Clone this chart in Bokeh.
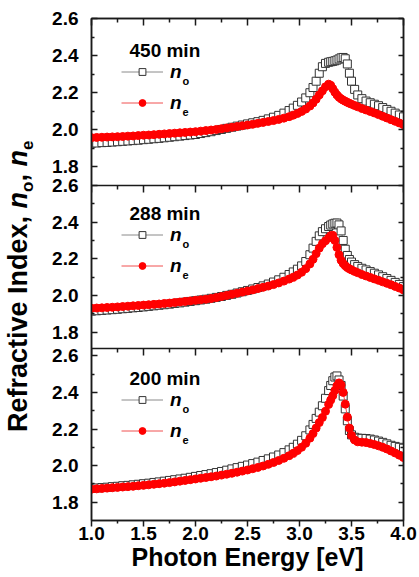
import math
from bokeh.plotting import figure
from bokeh.layouts import row
from bokeh.models import (Range1d, LinearAxis, FixedTicker, Span, Label, Legend,
                          LegendItem, ColumnDataSource, CustomJSTickFormatter,
                          PrintfTickFormatter, Div)
from bokeh.embed import file_html
from bokeh.resources import INLINE

# ---------------- data ----------------
energy = [1.00, 1.05, 1.10, 1.15, 1.20, 1.25, 1.30, 1.35, 1.40, 1.45,
          1.50, 1.55, 1.60, 1.65, 1.70, 1.75, 1.80, 1.85, 1.90, 1.95,
          2.00, 2.05, 2.10, 2.15, 2.20, 2.25, 2.30, 2.35, 2.40, 2.45,
          2.50, 2.55, 2.60, 2.65, 2.70, 2.75, 2.80, 2.85, 2.90,
          2.94, 2.98, 3.02, 3.06, 3.10,
          3.13, 3.16, 3.19, 3.22, 3.25, 3.28,
          3.30, 3.32, 3.34, 3.36, 3.38, 3.40, 3.42, 3.44, 3.46, 3.48, 3.50,
          3.53, 3.56, 3.60,
          3.64, 3.68, 3.72, 3.76, 3.80, 3.84, 3.88, 3.92, 3.96, 4.00]

no_450 = [1.928, 1.929, 1.931, 1.932, 1.934, 1.936, 1.938, 1.940, 1.942, 1.944,
          1.947, 1.949, 1.952, 1.954, 1.957, 1.960, 1.963, 1.966, 1.969, 1.972,
          1.975, 1.980, 1.985, 1.990, 1.996, 2.002, 2.008, 2.014, 2.020, 2.026,
          2.032, 2.038, 2.044, 2.051, 2.059, 2.068, 2.078, 2.090, 2.104,
          2.117, 2.132, 2.150, 2.172, 2.200,
          2.228, 2.262, 2.305, 2.340, 2.358, 2.364,
          2.367, 2.369, 2.372, 2.376, 2.382, 2.388, 2.390, 2.383, 2.355, 2.305, 2.262,
          2.218, 2.188, 2.168,
          2.155, 2.146, 2.138, 2.130, 2.120, 2.110, 2.100, 2.090, 2.080, 2.070]
ne_450 = [1.958, 1.959, 1.960, 1.961, 1.962, 1.963, 1.964, 1.966, 1.967, 1.969,
          1.971, 1.972, 1.974, 1.976, 1.978, 1.980, 1.982, 1.984, 1.986, 1.988,
          1.990, 1.993, 1.996, 1.999, 2.002, 2.006, 2.010, 2.014, 2.018, 2.022,
          2.026, 2.030, 2.035, 2.040, 2.045, 2.050, 2.056, 2.063, 2.071,
          2.079, 2.088, 2.099, 2.112, 2.128,
          2.145, 2.165, 2.188, 2.210, 2.232, 2.246,
          2.240, 2.222, 2.203, 2.188, 2.176, 2.167, 2.160, 2.154, 2.148, 2.143, 2.138,
          2.131, 2.124, 2.115,
          2.107, 2.099, 2.091, 2.082, 2.073, 2.064, 2.055, 2.046, 2.037, 2.028]

no_288 = [1.914, 1.916, 1.918, 1.920, 1.922, 1.924, 1.927, 1.929, 1.932, 1.934,
          1.937, 1.940, 1.943, 1.946, 1.949, 1.952, 1.956, 1.959, 1.963, 1.967,
          1.971, 1.975, 1.979, 1.984, 1.989, 1.994, 2.000, 2.006, 2.013, 2.020,
          2.027, 2.035, 2.043, 2.052, 2.062, 2.073, 2.085, 2.099, 2.114,
          2.128, 2.143, 2.161, 2.185, 2.222,
          2.258, 2.295, 2.325, 2.348, 2.364, 2.376,
          2.384, 2.390, 2.394, 2.395, 2.385, 2.352, 2.300, 2.252, 2.218, 2.196, 2.182,
          2.168, 2.158, 2.148,
          2.139, 2.130, 2.121, 2.112, 2.102, 2.092, 2.082, 2.071, 2.060, 2.048]
ne_288 = [1.930, 1.931, 1.932, 1.934, 1.935, 1.937, 1.939, 1.941, 1.943, 1.945,
          1.947, 1.949, 1.951, 1.953, 1.956, 1.958, 1.961, 1.964, 1.967, 1.970,
          1.973, 1.976, 1.979, 1.983, 1.988, 1.994, 2.000, 2.006, 2.012, 2.018,
          2.024, 2.030, 2.037, 2.044, 2.051, 2.059, 2.068, 2.078, 2.089,
          2.099, 2.111, 2.126, 2.146, 2.172,
          2.197, 2.228, 2.258, 2.282, 2.298, 2.314,
          2.326, 2.328, 2.300, 2.262, 2.222, 2.192, 2.174, 2.162, 2.152, 2.145, 2.139,
          2.131, 2.124, 2.114,
          2.106, 2.098, 2.090, 2.082, 2.074, 2.066, 2.058, 2.049, 2.040, 2.030]

no_200 = [1.876, 1.878, 1.880, 1.882, 1.885, 1.887, 1.890, 1.892, 1.895, 1.898,
          1.901, 1.904, 1.908, 1.911, 1.915, 1.919, 1.923, 1.927, 1.931, 1.936,
          1.941, 1.946, 1.951, 1.956, 1.962, 1.968, 1.975, 1.982, 1.989, 1.996,
          2.003, 2.011, 2.019, 2.028, 2.037, 2.047, 2.058, 2.071, 2.086,
          2.100, 2.117, 2.138, 2.163, 2.195,
          2.225, 2.258, 2.292, 2.327, 2.368, 2.410,
          2.438, 2.464, 2.484, 2.490, 2.468, 2.438, 2.380, 2.310, 2.245, 2.192, 2.168,
          2.155, 2.150, 2.149,
          2.148, 2.145, 2.140, 2.134, 2.127, 2.119, 2.111, 2.105, 2.100, 2.095]
ne_200 = [1.871, 1.873, 1.875, 1.877, 1.879, 1.881, 1.883, 1.885, 1.887, 1.890,
          1.892, 1.895, 1.898, 1.901, 1.904, 1.907, 1.911, 1.915, 1.919, 1.923,
          1.927, 1.931, 1.935, 1.939, 1.943, 1.948, 1.953, 1.958, 1.964, 1.970,
          1.976, 1.983, 1.990, 1.998, 2.007, 2.017, 2.028, 2.040, 2.054,
          2.067, 2.082, 2.100, 2.122, 2.150,
          2.175, 2.205, 2.235, 2.263, 2.297, 2.334,
          2.358, 2.382, 2.410, 2.436, 2.452, 2.440, 2.400, 2.336, 2.265, 2.205, 2.165,
          2.140, 2.130, 2.128,
          2.126, 2.121, 2.115, 2.108, 2.100, 2.091, 2.080, 2.069, 2.057, 2.044]

panel_titles = ["450 min", "288 min", "200 min"]
x_major = [1.0, 1.5, 2.0, 2.5, 3.0, 3.5, 4.0]
x_minor = [1.25, 1.75, 2.25, 2.75, 3.25, 3.75]
y_major = [1.8, 2.0, 2.2, 2.4, 2.6]
y_major_labels = ["1.8", "2.0", "2.2", "2.4", "2.6"]
y_minor = [1.9, 2.1, 2.3, 2.5]

# ---------------- layout (page pixels) ----------------
W, H = 419, 577
TW = 38                      # strip on the left that carries the y title
FL, FR, FT, FB = 91, 403, 18, 520
FH = FB - FT
PX_PER_EV = (FR - FL) / 3.0
FONT = "Liberation Sans"
AX = "#1a1a1a"

# (title, no, ne, vmin, vmax, page_top, page_bottom, legend row-1 page y)
panels = [
    (panel_titles[0], no_450, ne_450, 1.70, 2.60, 18, 185, 69),
    (panel_titles[1], no_288, ne_288, 1.71, 2.60, 185, 348, 232),
    (panel_titles[2], no_200, ne_200, 1.70, 2.64, 348, 520, 397),
]


def X(px):
    return 1.0 + (px - FL) / PX_PER_EV


def U(py):
    return FB - py


p = figure(width=W - TW, height=H, x_range=Range1d(1.0, 4.0), y_range=Range1d(0, FH),
           output_backend="svg", toolbar_location=None,
           min_border_left=FL - TW, min_border_right=W - FR,
           min_border_top=FT, min_border_bottom=H - FB)
p.grid.visible = False
p.outline_line_color = AX
p.outline_line_width = 1.5
p.background_fill_color = "white"
p.border_fill_color = "white"

major_u, major_lab, minor_u = [], [], []
extra = {}
for i, (title, no, ne, vmin, vmax, ptop, pbot, row1) in enumerate(panels):
    key = "p%d" % i
    u0, u1 = U(pbot), U(ptop)
    s = (vmax - vmin) / (u1 - u0)
    start = vmin - u0 * s
    extra[key] = Range1d(start, start + FH * s)
    for v, lab in zip(y_major, y_major_labels):
        if vmin - 1e-9 <= v <= vmax + 1e-9:
            major_u.append(round(u0 + (v - vmin) / s, 3))
            major_lab.append(lab)
    for v in y_minor:
        if vmin <= v <= vmax:
            minor_u.append(round(u0 + (v - vmin) / s, 3))
p.extra_y_ranges = extra

for i, (title, no, ne, vmin, vmax, ptop, pbot, row1) in enumerate(panels):
    key = "p%d" % i
    src = ColumnDataSource(dict(energy=energy, no=no, ne=ne))
    lo = p.line("energy", "no", source=src, y_range_name=key,
                line_color="#8a8a8a", line_width=1)
    so = p.scatter("energy", "no", source=src, y_range_name=key, marker="square",
                   size=8, line_color="#333333", fill_color="white", line_width=1)
    le = p.line("energy", "ne", source=src, y_range_name=key,
                line_color="#f05050", line_width=1)
    se = p.scatter("energy", "ne", source=src, y_range_name=key, marker="circle",
                   size=8, line_color="#ff0000", fill_color="#ff0000", line_width=1)

    leg = Legend(items=[LegendItem(label="n", renderers=[lo, so]),
                        LegendItem(label="n", renderers=[le, se])],
                 location=(121 - FL, FB - (row1 - 8.5 + 53)),
                 glyph_width=42, glyph_height=17, label_height=22, label_width=10,
                 label_standoff=7, spacing=9, padding=0, margin=0,
                 border_line_color=None, background_fill_alpha=0,
                 label_text_font=FONT, label_text_font_style="bold italic",
                 label_text_font_size="19px", label_text_color="black")
    p.add_layout(leg)

    p.add_layout(Label(x=X(129), y=U(row1 - 19.5), text=title, text_font=FONT,
                       text_font_style="bold", text_font_size="19px",
                       text_baseline="middle", text_align="left", text_color="black"))
    for k, sub in enumerate(["o", "e"]):
        p.add_layout(Label(x=X(182), y=U(row1 + 31 * k + 11), text=sub, text_font=FONT,
                           text_font_style="bold", text_font_size="11px",
                           text_baseline="middle", text_align="left", text_color="black"))

# panel separators with their inward top ticks
for pb in [185, 348]:
    ub = U(pb)
    p.add_layout(Span(location=ub, dimension="width", line_color=AX, line_width=1.5))
    p.segment(x0=x_major, y0=[ub] * len(x_major), x1=x_major, y1=[ub - 7] * len(x_major),
              line_color=AX, line_width=1.5)
    p.segment(x0=x_minor, y0=[ub] * len(x_minor), x1=x_minor, y1=[ub - 4] * len(x_minor),
              line_color=AX, line_width=1.5)

# ---------------- axes ----------------
xt = FixedTicker(ticks=x_major, minor_ticks=x_minor)
yt = FixedTicker(ticks=major_u, minor_ticks=minor_u)
yfmt = CustomJSTickFormatter(args=dict(pos=major_u, lab=major_lab), code="""
    let best = 0, bd = Infinity;
    for (let i = 0; i < pos.length; i++) {
        const d = Math.abs(pos[i] - tick);
        if (d < bd) { bd = d; best = i; }
    }
    return lab[best];
""")


def style_axis(ax):
    ax.axis_line_color = AX
    ax.axis_line_width = 1.5
    ax.major_tick_line_color = AX
    ax.minor_tick_line_color = AX
    ax.major_tick_line_width = 1.5
    ax.minor_tick_line_width = 1.5
    ax.major_label_text_font = FONT
    ax.major_label_text_font_style = "bold"
    ax.major_label_text_font_size = "19px"
    ax.major_label_text_color = "black"


def hide_labels(ax):
    ax.major_label_text_color = None
    ax.major_label_text_alpha = 0
    ax.major_label_text_font_size = "1px"
    ax.major_label_standoff = 0


xa = p.xaxis[0]
style_axis(xa)
xa.ticker = xt
xa.formatter = PrintfTickFormatter(format="%.1f")
xa.major_tick_out, xa.major_tick_in = 6, 0
xa.minor_tick_out, xa.minor_tick_in = 3, 0
xa.major_label_standoff = 0
xa.axis_label = "Photon Energy [eV]"
xa.axis_label_text_font = FONT
xa.axis_label_text_font_style = "bold"
xa.axis_label_text_font_size = "25px"
xa.axis_label_text_color = "black"
xa.axis_label_standoff = 0

ya = p.yaxis[0]
style_axis(ya)
ya.ticker = yt
ya.formatter = yfmt
ya.major_tick_out, ya.major_tick_in = 0, 6
ya.minor_tick_out, ya.minor_tick_in = 0, 3
ya.major_label_standoff = 13

top = LinearAxis(ticker=xt)
style_axis(top)
hide_labels(top)
top.major_tick_out, top.major_tick_in = 0, 7
top.minor_tick_out, top.minor_tick_in = 0, 4
p.add_layout(top, "above")

right = LinearAxis(ticker=yt)
style_axis(right)
hide_labels(right)
right.major_tick_out, right.major_tick_in = 0, 5
right.minor_tick_out, right.minor_tick_in = 0, 3
p.add_layout(right, "right")

# ---------------- y-axis title (italic n and subscripts), rotated HTML text ----------------
y_title_html = (
    '<div style="position:relative;width:%dpx;height:%dpx;overflow:visible;">'
    '<div style="position:absolute;left:5px;top:432px;transform-origin:0 0;'
    'transform:rotate(-90deg);white-space:nowrap;font-family:\'Liberation Sans\',Arial,sans-serif;'
    'font-weight:bold;font-size:27px;line-height:27px;color:#000;">'
    'Refractive Index, <i>n</i><sub style="font-size:17px;">o</sub>, '
    '<i>n</i><sub style="font-size:17px;">e</sub></div></div>' % (TW, H))
t = Div(text=y_title_html, width=TW, height=H, margin=0,
        styles={"overflow": "visible", "background": "white"})

layout = row(t, p, spacing=0)
open("out.html", "w").write(file_html(layout, INLINE))
